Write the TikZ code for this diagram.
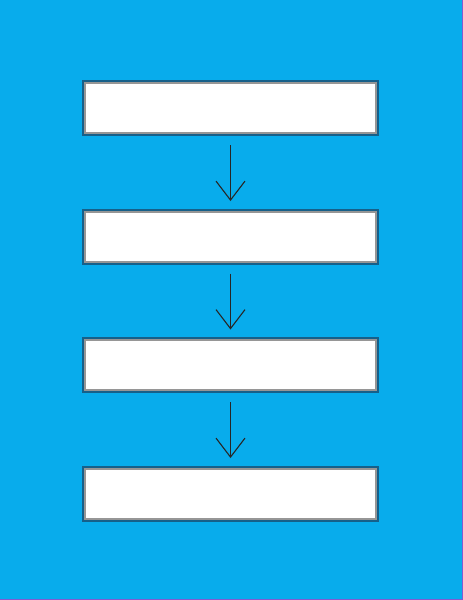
\documentclass[tikz,border=0pt]{standalone}
\usetikzlibrary{arrows.meta}

\definecolor{skyblue}{RGB}{8,172,236}
\definecolor{edgeblue}{RGB}{22,96,138}
\definecolor{edgegray}{RGB}{150,150,150}
\definecolor{rimpurple}{RGB}{130,90,210}

\begin{document}
\begin{tikzpicture}[x=1pt, y=-1pt,
every node/.style={draw=edgegray, line width=2, fill=white, inner sep=0 pt,
minimum width=291, minimum height=50, preaction={draw=edgeblue, line width=6}},
]

\useasboundingbox (0,0) rectangle (463,600);
\fill[skyblue] (0,0) rectangle (463,600);
\draw[rimpurple, line width=1] (462.5,0) -- (462.5,599.5) -- (0,599.5);

\path
(230.5,108) node (s1) {}
-- ++(0,128.5) node (s2) {}
-- ++(0,128.5) node (s3) {}
-- ++(0,128.5) node (s4) {}
;

% steps
\begin{scope}[-{Straight Barb[length=19, width=29]}, line width=1.1, black!85,
shorten <=11, shorten >=9.5]

\draw (s1) -- (s2) ;
\draw (s2) -- (s3) ;
\draw (s3) -- (s4) ;

\end{scope}

\end{tikzpicture}
\end{document}
